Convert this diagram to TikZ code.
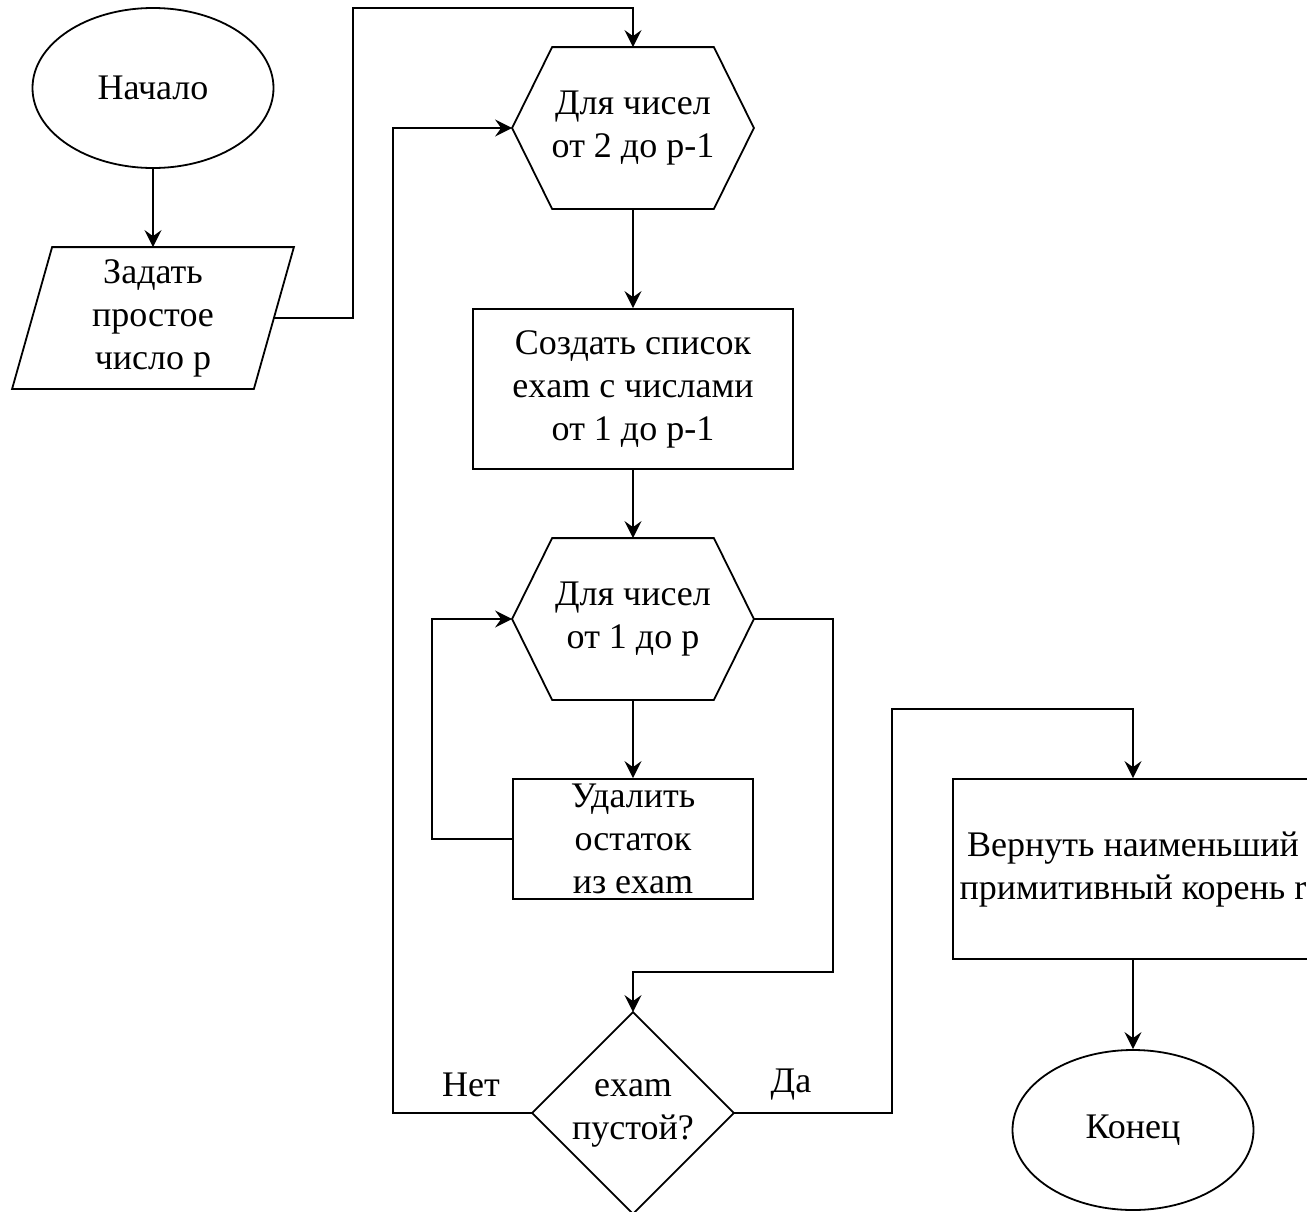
\documentclass[tikz,border=0pt]{standalone}
\usepackage{fontspec}
\setmainfont{Liberation Serif}
\usetikzlibrary{arrows.meta,shapes.geometric,calc}
\begin{document}
\begin{tikzpicture}[x=1pt,y=-1pt,
  line width=1.8pt,
  txt/.style={font=\fontsize{36}{43}\selectfont, align=center, inner sep=0pt},
  term/.style={txt, draw, ellipse, minimum width=241, minimum height=160},
  procbox/.style={txt, draw, rectangle},
  holder/.style={txt, rectangle},
  arr/.style={-{Stealth[length=17pt,width=17pt,inset=6pt]}},
  lbl/.style={font=\fontsize{36}{43}\selectfont, inner sep=0pt}
]
\useasboundingbox (0,0) rectangle (1307,1211);

% nodes
\node[term] (start) at (153,88) {Начало};
\node[holder, minimum width=240, minimum height=140] (para) at (153,318) {Задать\\простое\\число р};
\draw ($(para.north west)+(20,0)$) -- ($(para.north east)+(20,0)$) -- ($(para.south east)+(-20,0)$) -- ($(para.south west)+(-20,0)$) -- cycle;

\node[holder, minimum width=240, minimum height=160] (h1) at (633,128) {Для чисел\\от 2 до р-1};
\draw (h1.west) -- ($(h1.north west)+(40,0)$) -- ($(h1.north east)+(-40,0)$) -- (h1.east) -- ($(h1.south east)+(-40,0)$) -- ($(h1.south west)+(40,0)$) -- cycle;

\node[procbox, minimum width=320, minimum height=160] (box1) at (633,389) {Создать список\\exam с числами\\от 1 до р-1};

\node[holder, minimum width=240, minimum height=160] (h2) at (633,619) {Для чисел\\от 1 до р};
\draw (h2.west) -- ($(h2.north west)+(40,0)$) -- ($(h2.north east)+(-40,0)$) -- (h2.east) -- ($(h2.south east)+(-40,0)$) -- ($(h2.south west)+(40,0)$) -- cycle;

\node[procbox, minimum width=240, minimum height=120] (box2) at (633,839) {Удалить\\остаток\\из exam};

\node[holder, minimum width=200, minimum height=200] (dia) at (633,1113) {exam\\пустой?};
\draw (dia.north) -- (dia.east) -- (dia.south) -- (dia.west) -- cycle;

\node[procbox, minimum width=360, minimum height=180] (ret) at (1133,869) {Вернуть наименьший\\примитивный корень r};
\node[term] (end) at (1133,1130) {Конец};

\node[lbl] (no) at (471,1085) {Нет};
\node[lbl] (yes) at (791,1085) {Да};

% bend points
\coordinate (b1) at (353,8);
\coordinate (b3) at (833,972);
\coordinate (b4) at (393,1113);
\coordinate (b6) at (892,709);

% connectors
\draw[arr] (start.south) -- (para.north);
\draw[arr] (para.east) -| (b1) -| (h1.north);
\draw[arr] (h1.south) -- (box1.north);
\draw[arr] (box1.south) -- (h2.north);
\draw[arr] (h2.south) -- (box2.north);
\draw[arr] (box2.west) -- ++(-80,0) |- (h2.west);
\draw[arr] (h2.east) -| (b3) -| (dia.north);
\draw[arr] (dia.west) -- (b4) |- (h1.west);
\draw[arr] (dia.east) -| (b6) -| (ret.north);
\draw[arr] (ret.south) -- (end.north);
\end{tikzpicture}
\end{document}
